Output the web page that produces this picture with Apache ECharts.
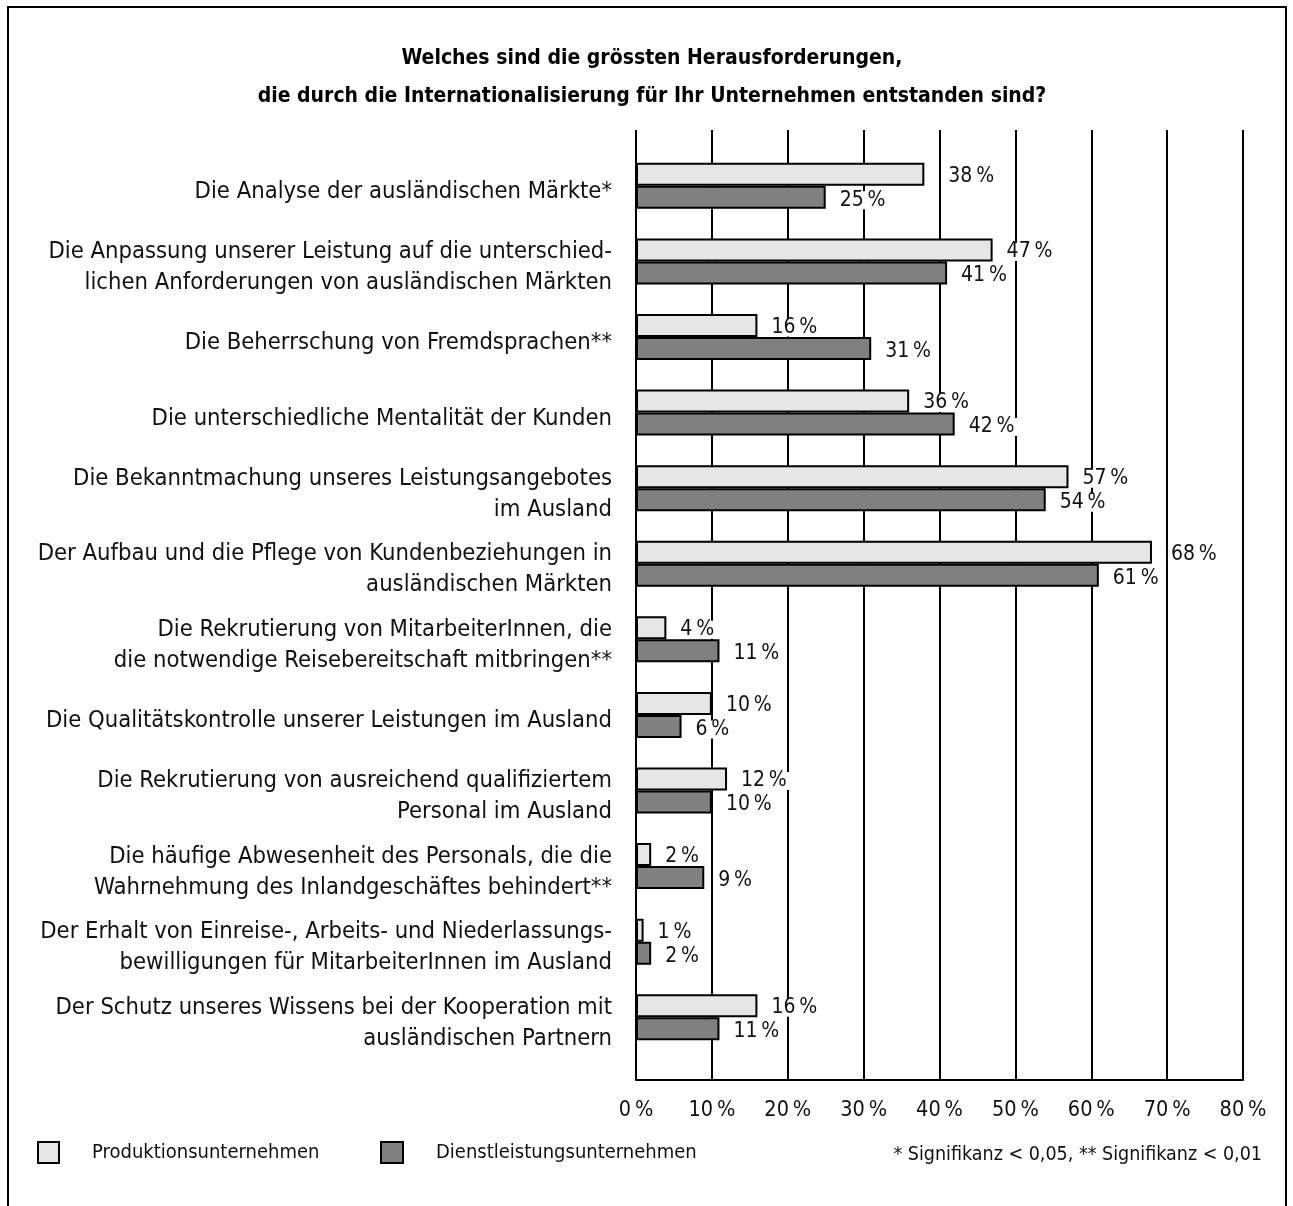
<!DOCTYPE html>
<html>
<head>
<meta charset="utf-8">
<script src="https://cdn.jsdelivr.net/npm/echarts@6/dist/echarts.min.js"></script>
<style>
  html, body { margin: 0; padding: 0; background: #fff; }
  #chart { width: 1293px; height: 1206px; }
</style>
</head>
<body>
<div id="chart"></div>
<script>
// Survey results: challenges caused by internationalisation (share of firms, %)
const categories = [
  'Die Analyse der ausländischen Märkte*',
  'Die Anpassung unserer Leistung auf die unterschied-\nlichen Anforderungen von ausländischen Märkten',
  'Die Beherrschung von Fremdsprachen**',
  'Die unterschiedliche Mentalität der Kunden',
  'Die Bekanntmachung unseres Leistungsangebotes\nim Ausland',
  'Der Aufbau und die Pflege von Kundenbeziehungen in\nausländischen Märkten',
  'Die Rekrutierung von MitarbeiterInnen, die\ndie notwendige Reisebereitschaft mitbringen**',
  'Die Qualitätskontrolle unserer Leistungen im Ausland',
  'Die Rekrutierung von ausreichend qualifiziertem\nPersonal im Ausland',
  'Die häufige Abwesenheit des Personals, die die\nWahrnehmung des Inlandgeschäftes behindert**',
  'Der Erhalt von Einreise-, Arbeits- und Niederlassungs-\nbewilligungen für MitarbeiterInnen im Ausland',
  'Der Schutz unseres Wissens bei der Kooperation mit\nausländischen Partnern'
];
const produktion = [38, 47, 16, 36, 57, 68, 4, 10, 12, 2, 1, 16];
const dienstleistung = [25, 41, 31, 42, 54, 61, 11, 6, 10, 9, 2, 11];
const seriesNames = ['Produktionsunternehmen', 'Dienstleistungsunternehmen'];
const titleLines = [
  'Welches sind die grössten Herausforderungen,',
  'die durch die Internationalisierung für Ihr Unternehmen entstanden sind?'
];
const footnote = '* Signifikanz < 0,05, ** Signifikanz < 0,01';
const axisMax = 80;
const axisStep = 10;

const FONT = '"DejaVu Sans Condensed", "DejaVu Sans", sans-serif';
const PCT = '\u2009%';

// labels that sit further right so they clear a grid line
const labelShift = { 0: { 0: 21, 5: 16 } };

function barData(values, sIdx) {
  return values.map((v, i) => {
    const extra = labelShift[sIdx] && labelShift[sIdx][i];
    return extra ? { value: v, label: { distance: extra } } : v;
  });
}

function barLabel(dy) {
  return {
    show: true,
    position: 'right',
    distance: 11,
    offset: [0, dy],
    formatter: p => p.value + PCT,
    fontFamily: FONT,
    fontSize: 21,
    color: '#111',
    backgroundColor: '#fff',
    padding: [0, 3, 0, 3],
    lineHeight: 18
  };
}

const hiddenValueAxis = {
  type: 'value', min: 0, max: axisMax, interval: axisStep,
  axisLine: { show: false }, axisTick: { show: false },
  axisLabel: { show: false }, splitLine: { show: false }
};

const chart = echarts.init(document.getElementById('chart'), null, { renderer: 'canvas' });

chart.setOption({
  backgroundColor: '#fff',
  animation: false,
  textStyle: { fontFamily: FONT },
  title: [
    {
      text: titleLines.join('\n'),
      left: 647,
      top: 35,
      textAlign: 'center',
      textStyle: { fontFamily: FONT, fontWeight: 'bold', fontSize: 21, lineHeight: 38, color: '#000' }
    },
    {
      text: footnote,
      right: 26,
      top: 1140,
      textStyle: { fontFamily: FONT, fontWeight: 'normal', fontSize: 19.5, color: '#111' }
    }
  ],
  legend: [
    {
      data: [seriesNames[0]],
      left: 32, top: 1136,
      icon: 'rect', itemWidth: 21, itemHeight: 21,
      textStyle: { fontFamily: FONT, fontSize: 20, color: '#111', padding: [0, 0, 0, 28] },
      selectedMode: false
    },
    {
      data: [seriesNames[1]],
      left: 375, top: 1136,
      icon: 'rect', itemWidth: 22, itemHeight: 21,
      textStyle: { fontFamily: FONT, fontSize: 20, color: '#111', padding: [0, 0, 0, 28] },
      selectedMode: false
    }
  ],
  grid: [
    // bars
    { left: 636, right: 50, top: 148, height: 907, containLabel: false },
    // vertical grid lines and the base line
    { left: 636, right: 50, top: 130, bottom: 126, containLabel: false },
    // category captions, set slightly lower than the bar pairs
    { left: 636, right: 50, top: 154, height: 907, containLabel: false }
  ],
  xAxis: [
    Object.assign({ gridIndex: 0 }, hiddenValueAxis),
    {
      gridIndex: 1, type: 'value', min: 0, max: axisMax, interval: axisStep,
      axisLine: { show: true, lineStyle: { color: '#000', width: 2 } },
      axisTick: { show: false },
      axisLabel: {
        margin: 19, fontFamily: FONT, fontSize: 21.5, color: '#111',
        formatter: v => v + PCT
      },
      splitLine: { show: true, lineStyle: { color: '#000', width: 2 } }
    },
    Object.assign({ gridIndex: 2 }, hiddenValueAxis)
  ],
  yAxis: [
    {
      gridIndex: 0, type: 'category', data: categories, inverse: true,
      axisLine: { show: false }, axisTick: { show: false },
      axisLabel: { show: false }
    },
    {
      gridIndex: 1, type: 'value', min: 0, max: 1,
      axisLine: { show: false }, axisTick: { show: false },
      axisLabel: { show: false }, splitLine: { show: false }
    },
    {
      gridIndex: 2, type: 'category', data: categories, inverse: true,
      axisLine: { show: false }, axisTick: { show: false },
      axisLabel: {
        margin: 24, fontFamily: FONT, fontSize: 23.6, lineHeight: 31,
        color: '#111', align: 'right'
      }
    }
  ],
  series: [
    {
      name: seriesNames[0], type: 'bar',
      xAxisIndex: 0, yAxisIndex: 0,
      data: barData(produktion, 0),
      barWidth: 23, barGap: '0%',
      itemStyle: { color: '#e6e6e6', borderColor: '#000', borderWidth: 2 },
      label: barLabel(2)
    },
    {
      name: seriesNames[1], type: 'bar',
      xAxisIndex: 0, yAxisIndex: 0,
      data: barData(dienstleistung, 1),
      barWidth: 23, barGap: '0%',
      itemStyle: { color: '#808080', borderColor: '#000', borderWidth: 2 },
      label: barLabel(3)
    }
  ],
  graphic: [
    {
      type: 'rect', silent: true, z: 100,
      shape: { x: 8, y: 7, width: 1278, height: 1260 },
      style: { fill: 'none', stroke: '#000', lineWidth: 2 }
    }
  ]
});
</script>
</body>
</html>
